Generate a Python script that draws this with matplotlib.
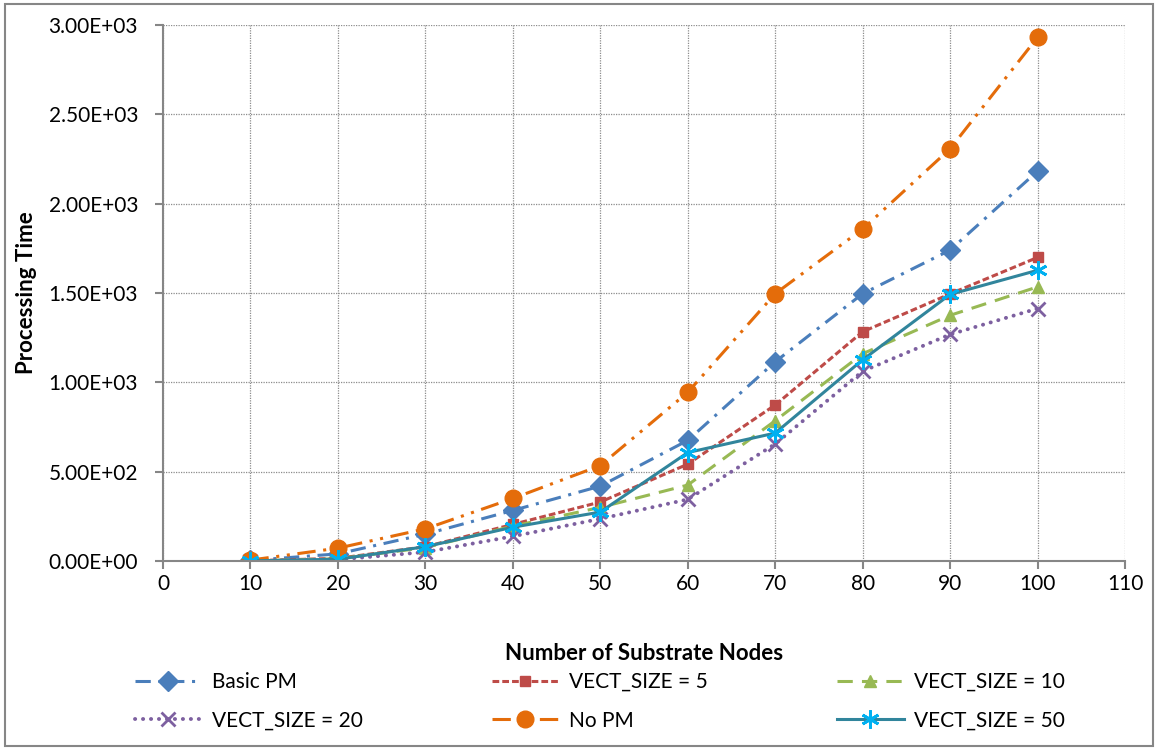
import numpy as np
import matplotlib
matplotlib.use('Agg')
import matplotlib.pyplot as plt
from matplotlib.patches import Rectangle

plt.rcParams['font.family'] = ['Lato', 'DejaVu Sans']

# substrate nodes and processing times per scheme
nodes = [10, 20, 30, 40, 50, 60, 70, 80, 90, 100]
basic_pm = [3, 40, 150, 283, 419, 675, 1115, 1496, 1740, 2182]
vect_5 = [1, 15, 80, 205, 330, 542, 873, 1283, 1495, 1699]
vect_10 = [1, 12, 75, 195, 300, 425, 785, 1160, 1375, 1534]
vect_20 = [1, 8, 50, 138, 236, 345, 655, 1062, 1268, 1413]
no_pm = [5, 72, 180, 350, 534, 944, 1496, 1858, 2307, 2931]
vect_50 = [1, 10, 80, 189, 274, 607, 716, 1126, 1492, 1627]

y_ticks = [0, 500, 1000, 1500, 2000, 2500, 3000]
y_labels = ['0.00E+00', '5.00E+02', '1.00E+03', '1.50E+03', '2.00E+03', '2.50E+03', '3.00E+03']
x_ticks = [0, 10, 20, 30, 40, 50, 60, 70, 80, 90, 100, 110]

fig = plt.figure(figsize=(11.58, 7.5), dpi=100)
ax = fig.add_axes([0.1408, 0.252, 0.8307, 0.7147])

lw = 2.2
h_basic, = ax.plot(nodes, basic_pm, color='#4A7EBB', lw=lw, linestyle=(0, (5, 2.5, 1, 2.5)),
                   marker='D', markersize=10, label='Basic PM')
h_v5, = ax.plot(nodes, vect_5, color='#BE4B48', lw=lw, linestyle=(0, (2.2, 1)),
                marker='s', markersize=7, label='VECT_SIZE = 5')
h_v10, = ax.plot(nodes, vect_10, color='#98B954', lw=lw, linestyle=(0, (5, 3)),
                 marker='^', markersize=8, label='VECT_SIZE = 10')
h_v20, = ax.plot(nodes, vect_20, color='#7D60A0', lw=lw + 0.6, linestyle=(0, (0.05, 2)),
                 dash_capstyle='round', marker='x', markersize=10, markeredgewidth=2,
                 label='VECT_SIZE = 20')
h_nopm, = ax.plot(nodes, no_pm, color='#E46C0A', lw=lw, linestyle=(0, (6, 2.5, 1, 2.5, 1, 2.5)),
                  marker='o', markersize=12, label='No PM')
h_v50, = ax.plot(nodes, vect_50, color='#31859C', lw=lw, linestyle='-',
                 marker=(6, 2, 0), markersize=13, markeredgewidth=2,
                 markeredgecolor='#00B0F0', label='VECT_SIZE = 50')

ax.set_xlim(0, 110)
ax.set_ylim(0, 3000)
ax.set_xticks(x_ticks)
ax.set_yticks(y_ticks)
ax.set_yticklabels(y_labels)
ax.grid(True, color='#8C8C8C', linestyle=(0, (1, 1)), linewidth=0.9)
ax.set_axisbelow(True)
for side in ['top', 'right']:
    ax.spines[side].set_visible(False)
for side in ['left', 'bottom']:
    ax.spines[side].set_color('#868686')
    ax.spines[side].set_linewidth(1.5)
ax.tick_params(axis='both', colors='#868686', length=6, width=1.5, labelsize=15,
               labelcolor='black')
ax.tick_params(axis='y', pad=12)
ax.tick_params(axis='x', pad=3)

ax.set_xlabel('Number of Substrate Nodes', fontsize=16, fontweight='bold', labelpad=36)
ax.set_ylabel('Processing Time', fontsize=16, fontweight='bold', labelpad=8)

# legend fills column-wise, so reorder to read row by row
handles = [h_basic, h_v20, h_v5, h_nopm, h_v10, h_v50]
fig.legend(handles=handles, labels=[h.get_label() for h in handles], ncol=3,
           loc='center left', bbox_to_anchor=(135 / 1158, 0.065), frameon=False, fontsize=15,
           borderpad=0, borderaxespad=0, columnspacing=6.2, handlelength=3.2,
           handletextpad=0.5, labelspacing=0.9)

fig.add_artist(Rectangle((0.004, 0.005), 0.992, 0.99, transform=fig.transFigure,
                         fill=False, edgecolor='#868686', linewidth=1.5))

fig.savefig('out.png', dpi=100)
